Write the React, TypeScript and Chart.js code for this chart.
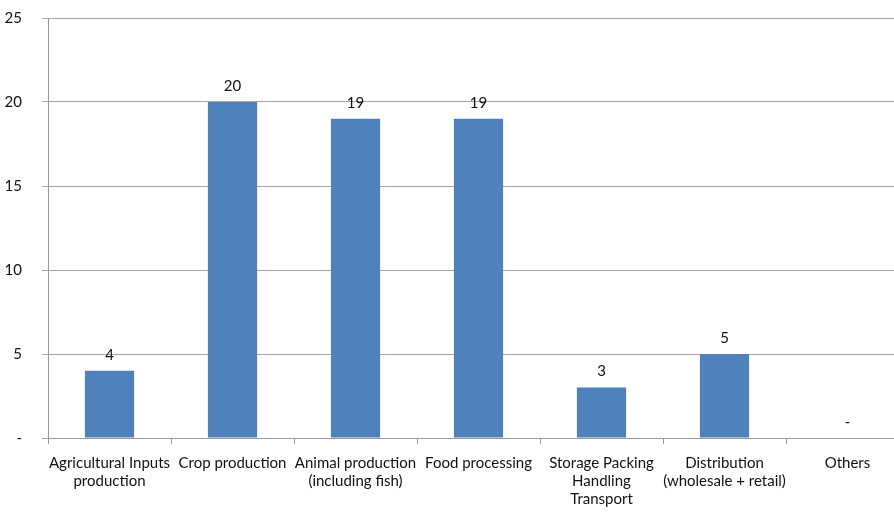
import React, { useEffect, useRef } from "react";
import { Chart, registerables } from "chart.js";

Chart.register(...registerables);

const categories: (string | string[])[] = [
  ["Agricultural Inputs", "production"],
  "Crop production",
  ["Animal production", "(including fish)"],
  "Food processing",
  ["Storage Packing", "Handling", "Transport"],
  ["Distribution", "(wholesale + retail)"],
  "Others",
];
const values: number[] = [4, 20, 19, 19, 3, 5, 0];
const yTicks: number[] = [0, 5, 10, 15, 20, 25];

const FONT = "Lato, 'Open Sans', sans-serif";

const valueLabels = {
  id: "valueLabels",
  afterDatasetsDraw(chart: any) {
    const ctx = chart.ctx;
    const meta = chart.getDatasetMeta(0);
    ctx.save();
    ctx.font = `15px ${FONT}`;
    ctx.fillStyle = "#111";
    ctx.textAlign = "center";
    ctx.textBaseline = "middle";
    meta.data.forEach((bar: any, i: number) => {
      const v = values[i];
      ctx.fillText(v === 0 ? "-" : String(v), bar.x, bar.y - 16);
    });
    ctx.restore();
  },
};

export default function App() {
  const ref = useRef<HTMLCanvasElement | null>(null);
  useEffect(() => {
    if (!ref.current) return;
    const chart = new Chart(ref.current, {
      type: "bar",
      data: {
        labels: categories,
        datasets: [
          {
            data: values,
            backgroundColor: "#4F81BD",
            barPercentage: 0.4,
            categoryPercentage: 1,
          },
        ],
      },
      options: {
        animation: false,
        responsive: false,
        plugins: { legend: { display: false }, tooltip: { enabled: false } },
        layout: { padding: { top: 6, right: 21, left: 0, bottom: 0 } },
        scales: {
          x: {
            grid: {
              offset: true,
              drawOnChartArea: false,
              drawTicks: true,
              tickLength: 6,
              color: "#9a9a9a",
            },
            border: { color: "#9a9a9a" },
            ticks: {
              autoSkip: false,
              maxRotation: 0,
              minRotation: 0,
              padding: 10,
              color: "#111",
              font: { family: FONT, size: 15, lineHeight: 1.2 },
            },
            afterFit: (s: any) => {
              s.height = 74;
            },
          },
          y: {
            min: 0,
            max: 25,
            afterBuildTicks: (s: any) => {
              s.ticks = yTicks.map((v) => ({ value: v }));
            },
            grid: { color: "#a6a6a6", tickLength: 6 },
            border: { color: "#9a9a9a" },
            ticks: {
              padding: 20,
              color: "#111",
              font: { family: FONT, size: 15 },
              callback: (v: any) => (Number(v) === 0 ? "-" : String(v)),
            },
            afterFit: (s: any) => {
              s.width = 48;
            },
          },
        },
      },
      plugins: [valueLabels],
    });
    return () => chart.destroy();
  }, []);
  return (
    <div
      style={{
        position: "absolute",
        left: 0,
        top: 0,
        width: 894,
        height: 512,
        overflow: "hidden",
        background: "#fff",
      }}
    >
      <canvas
        ref={ref}
        width={930}
        height={523}
        style={{ width: 930, height: 523, display: "block", position: "absolute", left: 0, top: -11 }}
      />
    </div>
  );
}
